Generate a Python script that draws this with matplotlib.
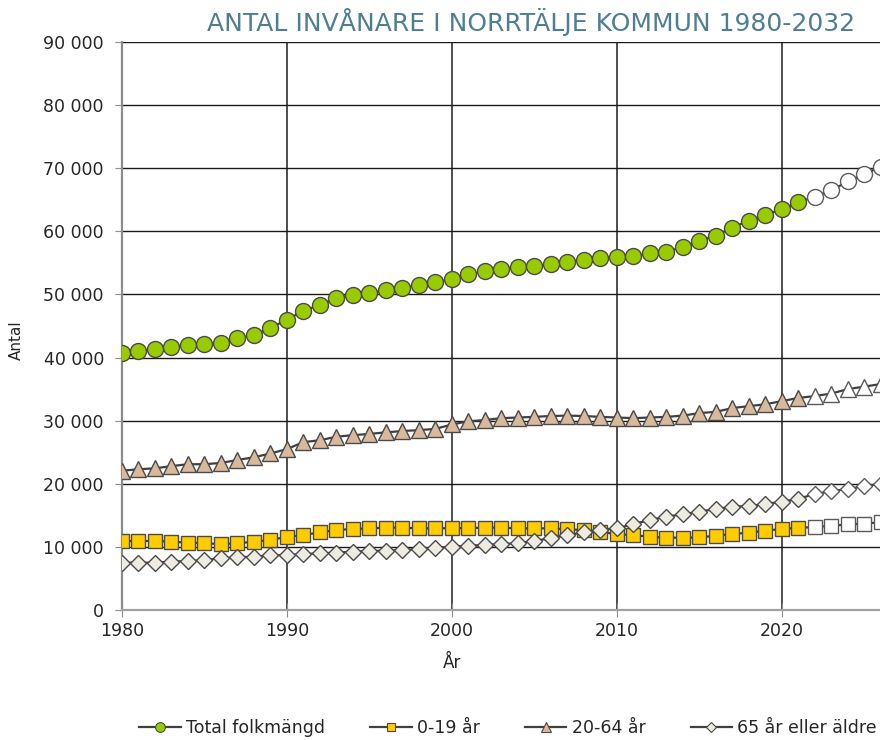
import matplotlib
matplotlib.use("Agg")
import matplotlib.pyplot as plt
from matplotlib.lines import Line2D
from matplotlib.ticker import FuncFormatter

plt.rcParams['font.family'] = ['Liberation Sans Narrow', 'DejaVu Sans Condensed', 'DejaVu Sans']

years = list(range(1980, 2027))
last_actual = 2021

total = [40.8, 41.05, 41.35, 41.7, 42.0, 42.1, 42.35, 43.05, 43.6, 44.7,
         46.0, 47.4, 48.35, 49.4, 49.9, 50.2, 50.7, 51.1, 51.5, 51.9,
         52.5, 53.2, 53.7, 54.0, 54.4, 54.55, 54.8, 55.2, 55.45, 55.7,
         56.0, 56.1, 56.5, 56.8, 57.5, 58.5, 59.3, 60.6, 61.7, 62.6,
         63.5, 64.6, 65.5, 66.5, 67.9, 69.1, 70.2]
age_0_19 = [10.93, 10.93, 10.93, 10.83, 10.67, 10.56, 10.46, 10.56, 10.83, 11.09,
            11.6, 11.88, 12.3, 12.68, 12.83, 12.94, 13.05, 13.05, 12.94, 12.94,
            12.97, 12.97, 13.05, 13.05, 12.94, 12.94, 12.94, 12.78, 12.68, 12.4,
            12.0, 11.88, 11.6, 11.46, 11.46, 11.5, 11.78, 12.04, 12.25, 12.57,
            12.85, 13.0, 13.15, 13.35, 13.55, 13.7, 13.9]
age_20_64 = [22.07, 22.3, 22.45, 22.8, 23.1, 23.1, 23.3, 23.77, 24.2, 24.8,
             25.5, 26.6, 26.9, 27.46, 27.7, 27.9, 28.15, 28.36, 28.5, 28.7,
             29.4, 29.9, 30.1, 30.4, 30.5, 30.6, 30.74, 30.8, 30.74, 30.6,
             30.5, 30.4, 30.5, 30.6, 30.8, 31.2, 31.4, 32.0, 32.3, 32.6,
             33.1, 33.6, 33.9, 34.3, 35.0, 35.4, 35.8]
age_65 = [7.5, 7.5, 7.5, 7.66, 7.76, 7.92, 8.19, 8.35, 8.45, 8.66,
          8.7, 8.87, 8.98, 9.09, 9.24, 9.35, 9.4, 9.5, 9.67, 9.87,
          10.03, 10.2, 10.3, 10.46, 10.56, 10.98, 11.35, 11.88, 12.3, 12.68,
          12.94, 13.63, 14.26, 14.8, 15.16, 15.6, 16.0, 16.37, 16.48, 16.8,
          17.16, 17.6, 18.4, 18.8, 19.2, 19.6, 20.0]

labels = ["Total folkmängd", "0-19 år", "20-64 år", "65 år eller äldre"]
y_ticks = list(range(0, 90001, 10000))
x_ticks = [1980, 1990, 2000, 2010, 2020]
title = "ANTAL INVÅNARE I NORRTÄLJE KOMMUN 1980-2032"

series = [total, age_0_19, age_20_64, age_65]
styles = [
    dict(marker='o', ms=11.5, lms=7.0, fc='#99CC00'),
    dict(marker='s', ms=10.5, lms=6.0, fc='#FFCC00'),
    dict(marker='^', ms=11.0, lms=6.5, fc='#D9B99B'),
    dict(marker='D', ms=8.3, lms=4.8, fc='#EEECE1'),
]

fig = plt.figure(figsize=(8.8, 7.4), dpi=100)
ax = fig.add_axes([122/880, 1-610/740, 1-122/880, (610-42)/740])

n_act = years.index(last_actual) + 1
line_col = '#404040'
for vals, st in zip(series, styles):
    v = [x * 1000 for x in vals]
    ax.plot(years, v, color=line_col, lw=1.6, zorder=3)
    ax.plot(years[:n_act], v[:n_act], ls='none', marker=st['marker'], ms=st['ms'],
            mfc=st['fc'], mec='#4a4a4a', mew=1.0, zorder=4)
    ax.plot(years[n_act:], v[n_act:], ls='none', marker=st['marker'], ms=st['ms'],
            mfc='white', mec='#5a5a5a', mew=1.0, zorder=4)

ax.set_xlim(1980, 2025.95)
ax.set_ylim(0, 90000)
ax.set_xticks(x_ticks)
ax.set_yticks(y_ticks)
ax.yaxis.set_major_formatter(FuncFormatter(lambda v, p: f"{int(v):,}".replace(",", " ")))
ax.grid(True, axis='y', color='#1a1a1a', lw=1.0, zorder=1)
ax.grid(True, axis='x', color='#404040', lw=1.3, zorder=1)
for s in ['top', 'right']:
    ax.spines[s].set_visible(False)
ax.spines['left'].set_color('#8c8c8c')
ax.spines['left'].set_linewidth(1.6)
ax.spines['bottom'].set_color('#a0a0a0')
ax.spines['bottom'].set_linewidth(1.6)
ax.tick_params(axis='y', direction='out', length=5, color='#8c8c8c', labelsize=12.5,
               labelcolor='#262626', pad=8)
ax.tick_params(axis='x', direction='inout', length=10, color='#8c8c8c', labelsize=12.5,
               labelcolor='#262626', pad=4)

ax.set_xlabel("År", fontsize=12, color='#262626')
ax.xaxis.set_label_coords((452-122)/758, -0.078)
ax.set_ylabel("Antal", fontsize=11, color='#262626')
ax.yaxis.set_label_coords(-0.13, 0.475)

fig.text(531/880, 1-22/740, title, ha='center', va='center', fontsize=18, color='#4E7F90')

handles = [Line2D([0], [0], color=line_col, lw=1.6, marker=st['marker'],
                  ms=st['lms'], mfc=st['fc'], mec='#4a4a4a', mew=0.8)
           for st in styles]
fig.legend(handles, labels, loc='center', bbox_to_anchor=(508/880, 1-728/740), ncol=4,
           frameon=False, fontsize=12.5, handlelength=2.4, handletextpad=0.3,
           columnspacing=2.6, labelcolor='#262626')

fig.savefig("out.png", dpi=100)
